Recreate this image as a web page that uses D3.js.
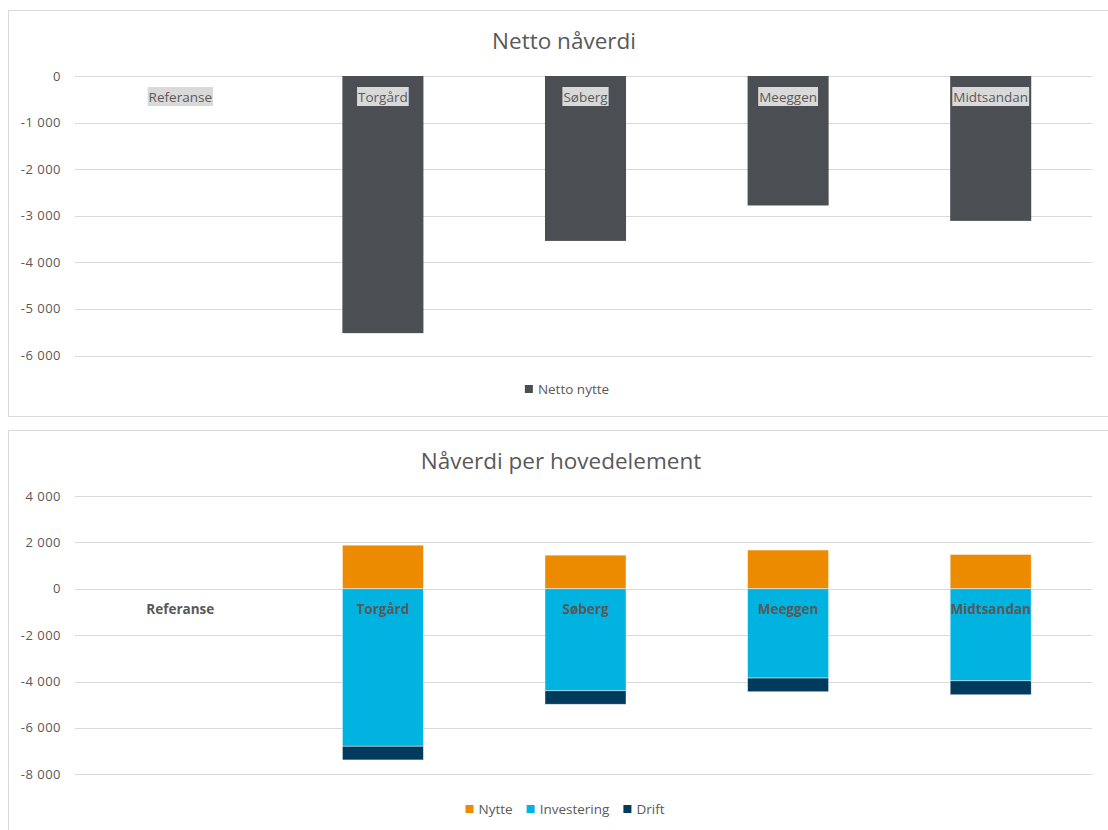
<!DOCTYPE html>
<html>
<head>
<meta charset="utf-8">
<script src="https://cdn.jsdelivr.net/npm/d3@7"></script>
<style>
  html, body { margin: 0; padding: 0; background: #ffffff; }
  svg { display: block; font-family: "Open Sans", Lato, sans-serif; }
</style>
</head>
<body>
<svg id="chart" width="1108" height="830"></svg>
<script>
// Alternatives compared
const categories = ["Referanse", "Torgård", "Søberg", "Meeggen", "Midtsandan"];

// Netto nåverdi (mill. kr)
const nettoNytte = [0, -5520, -3540, -2780, -3110];

// Nåverdi per hovedelement (mill. kr)
const nytte       = [0, 1880, 1450, 1670, 1480];
const investering = [0, -6790, -4400, -3850, -3970];
const drift       = [0, -590, -580, -590, -600];

// Axis ticks
const ticksTop    = [0, -1000, -2000, -3000, -4000, -5000, -6000];
const ticksBottom = [4000, 2000, 0, -2000, -4000, -6000, -8000];

const titles = ["Netto nåverdi", "Nåverdi per hovedelement"];
const seriesNames = ["Nytte", "Investering", "Drift"];
const colors = { netto: "#4b4e53", Nytte: "#ed8b00", Investering: "#00b3e0", Drift: "#003a5c" };

const fmt = d3.formatLocale({ decimal: ",", thousands: "\u00a0", grouping: [3], currency: ["", ""], minus: "-" }).format(",d");

const svg = d3.select("#chart");
const textColor = "#595959";
const gridColor = "#d9d9d9";

const x = d3.scaleBand().domain(categories).range([79, 1092]).padding(0);
const barW = x.bandwidth() * 0.4;
const cx = d => x(d) + x.bandwidth() / 2;

function frame(y, h) {
  svg.append("rect").attr("x", 8.5).attr("y", y + 0.5).attr("width", 1106).attr("height", h)
    .attr("fill", "#ffffff").attr("stroke", gridColor).attr("stroke-width", 1);
}

function yAxis(g, y, ticks) {
  const grid = g.append("g");
  ticks.forEach(t => {
    grid.append("line").attr("x1", 75).attr("x2", 1092)
      .attr("y1", Math.round(y(t)) + 0.5).attr("y2", Math.round(y(t)) + 0.5)
      .attr("stroke", gridColor).attr("stroke-width", 1);
    grid.append("text").attr("x", 61).attr("y", y(t)).attr("dy", "0.35em")
      .attr("text-anchor", "end").attr("fill", textColor).attr("font-size", 13)
      .attr("letter-spacing", 0.5)
      .text(fmt(t));
  });
}

function legend(items, cy, centerX) {
  const g = svg.append("g");
  let cur = 0;
  const parts = items.map(it => {
    const sw = g.append("rect").attr("width", 8).attr("height", 8).attr("fill", it.color);
    const tx = g.append("text").attr("font-size", 13.5).attr("fill", textColor).attr("dy", "0.35em").text(it.name);
    const w = tx.node().getComputedTextLength();
    const p = { sw, tx, x0: cur };
    cur += 13 + w + 14;
    return p;
  });
  const total = cur - 14;
  const start = centerX - total / 2;
  parts.forEach(p => {
    p.sw.attr("x", start + p.x0).attr("y", cy - 4);
    p.tx.attr("x", start + p.x0 + 13).attr("y", cy);
  });
}

// ---------- Top chart: Netto nåverdi ----------
frame(10, 406);
svg.append("text").attr("x", 564).attr("y", 41).attr("dy", "0.35em").attr("text-anchor", "middle")
  .attr("font-size", 22.5).attr("fill", textColor).text(titles[0]);

const yTop = d3.scaleLinear().domain([-6000, 0]).range([355.5, 76]);
const gTop = svg.append("g");
yAxis(gTop, yTop, ticksTop);

gTop.selectAll("rect.bar").data(categories).enter().append("rect")
  .attr("class", "bar")
  .attr("x", d => cx(d) - barW / 2)
  .attr("width", barW)
  .attr("y", (d, i) => yTop(Math.max(0, nettoNytte[i])))
  .attr("height", (d, i) => Math.abs(yTop(nettoNytte[i]) - yTop(0)))
  .attr("fill", colors.netto);

// category labels with grey fill, placed just below the zero line
categories.forEach(c => {
  const g = gTop.append("g");
  const t = g.append("text").attr("x", cx(c)).attr("y", 97).attr("dy", "0.35em")
    .attr("text-anchor", "middle").attr("font-size", 13.5).attr("fill", textColor).text(c);
  const w = t.node().getComputedTextLength();
  g.insert("rect", "text").attr("x", cx(c) - w / 2 - 1).attr("y", 87).attr("width", w + 2).attr("height", 19)
    .attr("fill", "#d9d9d9");
});

legend([{ name: "Netto nytte", color: colors.netto }], 389, 567);

// ---------- Bottom chart: Nåverdi per hovedelement ----------
frame(430, 420);
svg.append("text").attr("x", 561).attr("y", 461).attr("dy", "0.35em").attr("text-anchor", "middle")
  .attr("font-size", 22.5).attr("fill", textColor).text(titles[1]);

const yBot = d3.scaleLinear().domain([-8000, 4000]).range([774.3, 496]);
const gBot = svg.append("g");
yAxis(gBot, yBot, ticksBottom);

const table = categories.map((c, i) => ({ cat: c, Nytte: nytte[i], Investering: investering[i], Drift: drift[i] }));
const stack = d3.stack().keys(seriesNames).offset(d3.stackOffsetDiverging);
const layers = stack(table);

gBot.selectAll("g.layer").data(layers).enter().append("g")
  .attr("class", "layer")
  .attr("fill", d => colors[d.key])
  .selectAll("rect").data(d => d).enter().append("rect")
  .attr("x", d => cx(d.data.cat) - barW / 2)
  .attr("width", barW)
  .attr("y", d => yBot(Math.max(d[0], d[1])))
  .attr("height", d => Math.abs(yBot(d[0]) - yBot(d[1])))
  .attr("stroke", "#ffffff").attr("stroke-opacity", 0.6).attr("stroke-width", 0.75);

categories.forEach(c => {
  gBot.append("text").attr("x", cx(c)).attr("y", 609).attr("dy", "0.35em")
    .attr("text-anchor", "middle").attr("font-size", 13.5).attr("font-weight", "bold")
    .attr("fill", textColor).text(c);
});

legend(seriesNames.map(n => ({ name: n, color: colors[n] })), 809, 565);
</script>
</body>
</html>
